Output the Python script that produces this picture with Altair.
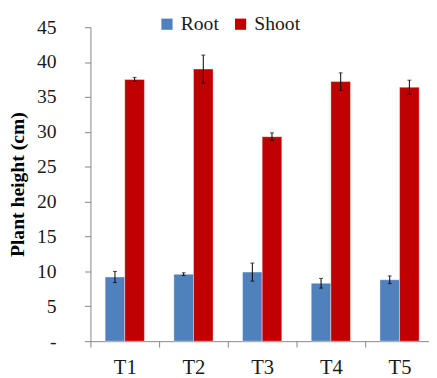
import altair as alt
import pandas as pd

cats = ["T1", "T2", "T3", "T4", "T5"]
parts = ["Root", "Shoot"]
root = [9.2, 9.6, 9.9, 8.3, 8.8]
root_err = [0.8, 0.2, 1.3, 0.7, 0.55]
shoot = [37.5, 39.0, 29.3, 37.2, 36.4]
shoot_err = [0.3, 2.0, 0.55, 1.25, 1.0]
colors = ["#4F81BD", "#C00000"]
y_ticks = [0, 5, 10, 15, 20, 25, 30, 35, 40, 45]

rows = []
for i, c in enumerate(cats):
    rows.append(dict(cat=c, part="Root", value=root[i], err=root_err[i]))
    rows.append(dict(cat=c, part="Shoot", value=shoot[i], err=shoot_err[i]))
df = pd.DataFrame(rows)
df["lo"] = df["value"] - df["err"]
df["hi"] = df["value"] + df["err"]

FONT = "Liberation Serif"
AXIS_COLOR = "#868686"

x_scale = alt.Scale(paddingInner=0, paddingOuter=0)
x_axis = alt.Axis(
    title=None,
    tickBand="extent",
    labelAngle=0,
    labelFontSize=21,
    labelColor="#1a1a1a",
    labelPadding=10,
    tickSize=6,
    tickColor=AXIS_COLOR,
    domainColor=AXIS_COLOR,
    grid=False,
)
x_enc = alt.X("cat:N", sort=cats, scale=x_scale, axis=x_axis)
xoff_enc = alt.XOffset(
    "part:N",
    sort=parts,
    scale=alt.Scale(domain=parts, paddingInner=0, paddingOuter=0.75),
)
y_scale = alt.Scale(domain=[0, 45], nice=False, zero=True)
y_axis = alt.Axis(
    values=y_ticks,
    labelOverlap=False,
    labelExpr="datum.value == 0 ? '-' : datum.label",
    title="Plant height (cm)",
    titleFontSize=20,
    titleFontWeight="bold",
    titleColor="#000000",
    titleAngle=270,
    titleX=-74,
    titleY=160,
    titleAlign="center",
    titleBaseline="middle",
    labelFontSize=20,
    labelColor="#1a1a1a",
    labelPadding=29,
    tickSize=6,
    tickColor=AXIS_COLOR,
    domainColor=AXIS_COLOR,
    grid=False,
)

base = alt.Chart(df)

bars = base.mark_bar(stroke="#ffffff", strokeWidth=0.8, strokeOpacity=0.5).encode(
    x=x_enc,
    xOffset=xoff_enc,
    y=alt.Y("value:Q", scale=y_scale, axis=y_axis),
    color=alt.Color(
        "part:N",
        scale=alt.Scale(domain=parts, range=colors),
        legend=alt.Legend(
            title=None,
            orient="none",
            direction="horizontal",
            legendX=68,
            legendY=-13,
            symbolType="square",
            symbolSize=130,
            symbolStrokeWidth=0,
            labelFontSize=20,
            labelColor="#1a1a1a",
            labelOffset=4,
            columnPadding=12,
            padding=0,
        ),
    ),
)

rules = base.mark_rule(color="#000000", strokeWidth=1).encode(
    x=x_enc, xOffset=xoff_enc, y=alt.Y("lo:Q", scale=y_scale, axis=y_axis), y2="hi:Q"
)
caps_lo = base.mark_tick(color="#000000", size=4, thickness=1).encode(
    x=x_enc, xOffset=xoff_enc, y=alt.Y("lo:Q", scale=y_scale, axis=y_axis)
)
caps_hi = base.mark_tick(color="#000000", size=4, thickness=1).encode(
    x=x_enc, xOffset=xoff_enc, y=alt.Y("hi:Q", scale=y_scale, axis=y_axis)
)

chart = (
    alt.layer(bars, rules, caps_lo, caps_hi)
    .properties(
        width=350,
        height=320,
        autosize=alt.AutoSizeParams(type="none"),
        padding={"left": 84, "top": 16, "right": -5, "bottom": 34},
    )
    .configure(font=FONT)
    .configure_axis(labelFont=FONT, titleFont=FONT)
    .configure_legend(labelFont=FONT, titleFont=FONT)
    .configure_view(stroke=None)
)

chart.save("out.html", embed_options={"renderer": "svg", "actions": False})
